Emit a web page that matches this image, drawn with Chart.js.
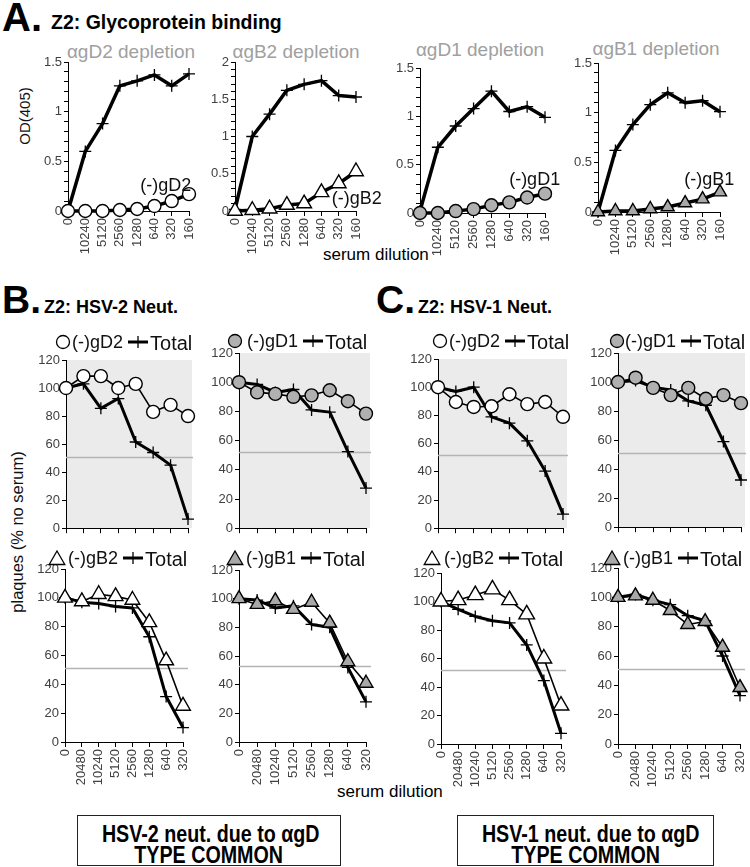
<!DOCTYPE html>
<html>
<head>
<meta charset="utf-8">
<script src="https://cdn.jsdelivr.net/npm/chart.js@4.4.1/dist/chart.umd.min.js"></script>
<style>
  html, body { margin: 0; padding: 0; background: #fff; }
  #page { position: relative; width: 750px; height: 867px; overflow: hidden;
          font-family: "Liberation Sans", Arial, sans-serif; color: #000; }
  #page canvas { position: absolute; }
  .txt { position: absolute; white-space: nowrap; line-height: 1; }
  .rot { position: absolute; white-space: nowrap; line-height: 1; transform: translate(-50%, -50%) rotate(-90deg); }
  .box { position: absolute; border: 1.5px solid #222; box-sizing: border-box;
         font-family: "Liberation Sans", Arial, sans-serif;
         font-weight: bold; font-size: 24px; text-align: center; }
  .box div { position: absolute; left: 0; right: 0; line-height: 1; white-space: nowrap; }
  .box span { display: inline-block; transform: scaleX(0.82); }
</style>
</head>
<body>
<div id="page">
  <div class="txt" style="left:2px; top:-3px; font-weight:bold; font-size:40px;">A.</div>
  <div class="txt" style="left:51px; top:13px; font-weight:bold; font-size:19.5px;">Z2: Glycoprotein binding</div>
  <div class="txt" style="left:131px; top:42px; font-size:19px; color:#a0a0a0; transform:translateX(-50%);">&alpha;gD2 depletion</div>
  <div class="txt" style="left:296px; top:42px; font-size:19px; color:#a0a0a0; transform:translateX(-50%);">&alpha;gB2 depletion</div>
  <div class="txt" style="left:480px; top:40px; font-size:19px; color:#a0a0a0; transform:translateX(-50%);">&alpha;gD1 depletion</div>
  <div class="txt" style="left:656px; top:39px; font-size:19px; color:#a0a0a0; transform:translateX(-50%);">&alpha;gB1 depletion</div>
  <div class="rot" style="left:24px; top:116px; font-size:15px; color:#111;">OD(405)</div>
  <div class="txt" style="left:323px; top:246px; font-size:17px;">serum dilution</div>

  <div class="txt" style="left:2px; top:280px; font-weight:bold; font-size:39px;">B.</div>
  <div class="txt" style="left:44px; top:298px; font-weight:bold; font-size:18px;">Z2: HSV-2 Neut.</div>
  <div class="txt" style="left:376px; top:280px; font-weight:bold; font-size:39px;">C.</div>
  <div class="txt" style="left:418px; top:298px; font-weight:bold; font-size:18px;">Z2: HSV-1 Neut.</div>
  <div class="rot" style="left:17px; top:532px; font-size:16.5px; color:#111;">plaques (% no serum)</div>
  <div class="txt" style="left:337px; top:783px; font-size:17px;">serum dilution</div>

  <div class="box" style="left:77px; top:815px; width:264px; height:51px;">
    <div style="top:6px;"><span>HSV-2 neut. due to &alpha;gD</span></div>
    <div style="top:27px;"><span>TYPE COMMON</span></div>
  </div>
  <div class="box" style="left:457px; top:815px; width:257px; height:51px;">
    <div style="top:6px;"><span>HSV-1 neut. due to &alpha;gD</span></div>
    <div style="top:27px;"><span>TYPE COMMON</span></div>
  </div>
</div>
<script>
Chart.defaults.font.family = '"Liberation Sans", Arial, sans-serif';
Chart.defaults.color = '#404040';
Chart.defaults.animation = false;

const bindingDilutions = ['0', '10240', '5120', '2560', '1280', '640', '320', '160'];
const neutDilutions = ['0', '20480', '10240', '5120', '2560', '1280', '640', '320'];

// A. glycoprotein binding, OD(405)
const odTotalGD2 = [0, 0.6, 0.88, 1.26, 1.31, 1.37, 1.26, 1.38];
const odMinusGD2 = [0, 0, 0, 0.01, 0.02, 0.05, 0.1, 0.17];
const odTotalGB2 = [0.02, 1.0, 1.3, 1.62, 1.7, 1.75, 1.55, 1.53];
const odMinusGB2 = [0, 0.01, 0.03, 0.08, 0.1, 0.25, 0.37, 0.53];
const odTotalGD1 = [0.02, 0.68, 0.9, 1.08, 1.26, 1.05, 1.1, 0.99];
const odMinusGD1 = [0, 0, 0.02, 0.04, 0.08, 0.11, 0.16, 0.2];
const odTotalGB1 = [0, 0.62, 0.88, 1.08, 1.2, 1.1, 1.12, 1.01];
const odMinusGB1 = [0, 0.01, 0.01, 0.03, 0.05, 0.09, 0.13, 0.2];

// B. HSV-2 neutralization, plaques (% no serum)
const hsv2MinusGD2 = [100, 108.5, 108.5, 100, 103, 83, 88, 80];
const hsv2TotalGD2 = [100, 103, 85.5, 92.5, 61.5, 54, 45, 6.5];
const hsv2MinusGD1 = [100, 93, 92, 90, 91, 94.5, 87, 78.5];
const hsv2TotalGD1 = [100, 98.5, 93, 95, 81, 79.5, 52.5, 27.5];
const hsv2MinusGB2 = [100, 97.5, 102.5, 101, 98.5, 83, 56.5, 25];
const hsv2TotalGB2 = [100, 97, 96, 94, 93, 73, 31.5, 10];
const hsv2MinusGB1 = [100, 96, 98.5, 92.5, 97.5, 83, 56, 41];
const hsv2TotalGB1 = [100, 99, 93.5, 95, 82, 80, 52, 28];

// C. HSV-1 neutralization
const hsv1MinusGD2 = [100, 89.5, 86, 86.5, 95, 88, 89.5, 79];
const hsv1TotalGD2 = [100, 97, 100, 79, 74.5, 62, 40.5, 10];
const hsv1MinusGD1 = [100, 103, 96, 91, 96, 88.5, 91, 85.5];
const hsv1TotalGD1 = [100, 101, 96.5, 94.5, 87, 84, 59, 32.5];
const hsv1MinusGB2 = [100, 101, 104.5, 108.5, 101, 91, 60, 27];
const hsv1TotalGB2 = [100, 94.5, 89.5, 86.5, 85, 69.5, 44.5, 7.5];
const hsv1MinusGB1 = [100, 101, 98, 91, 81.5, 83.5, 66, 38.5];
const hsv1TotalGB1 = [100, 102, 98, 95, 87.5, 84, 60, 33];

// 50% reference lines
const halfLines = [51, 52, 51, 53, 52, 51, 52, 51];

const AXIS_W = 45;
const page = document.getElementById('page');

function drawMarker(ctx, style, x, y, r, fill, lw) {
    ctx.save();
    ctx.fillStyle = fill;
    ctx.strokeStyle = '#000';
    ctx.lineWidth = lw;
    ctx.beginPath();
    if (style === 'circle') {
        ctx.arc(x, y, r, 0, Math.PI * 2);
    } else {
        for (let k = 0; k < 3; k++) {
            const a = k * 2 * Math.PI / 3;
            const px = x + Math.sin(a) * r, py = y - Math.cos(a) * r;
            if (k) ctx.lineTo(px, py); else ctx.moveTo(px, py);
        }
        ctx.closePath();
    }
    ctx.fill();
    ctx.stroke();
    ctx.restore();
}

function panelPlugin(p) {
    return {
        id: 'panelDeco',
        beforeDraw(chart) {
            if (!p.shade) return;
            const { ctx, chartArea: a } = chart;
            ctx.save();
            ctx.fillStyle = '#ebebeb';
            ctx.fillRect(a.left, a.top, a.right - a.left + 4, a.bottom - a.top);
            ctx.restore();
        },
        beforeDatasetsDraw(chart) {
            if (p.half == null) return;
            const { ctx, chartArea: a, scales } = chart;
            const y = Math.round(scales.y.getPixelForValue(p.half)) + 0.5;
            ctx.save();
            ctx.strokeStyle = '#b4b4b4';
            ctx.lineWidth = 1.6;
            ctx.beginPath();
            ctx.moveTo(a.left, y);
            ctx.lineTo(a.right + 5, y);
            ctx.stroke();
            ctx.restore();
        },
        afterDraw(chart) {
            const { ctx, chartArea: a, scales } = chart;
            ctx.save();
            ctx.fillStyle = '#111';
            ctx.font = '18px "Liberation Sans", Arial, sans-serif';
            if (p.note) {
                ctx.textAlign = 'center';
                ctx.textBaseline = 'middle';
                ctx.fillText(p.note.text, scales.x.getPixelForValue(p.note.idx), scales.y.getPixelForValue(p.note.val));
            }
            if (p.legend) {
                const L = p.legend;
                const y = a.top + L.dy;
                drawMarker(ctx, p.style, a.left + L.marker, y + (p.style === 'circle' ? 0 : 2),
                    p.style === 'circle' ? 6.5 : 9, p.fill, 1.3);
                ctx.fillStyle = '#111';
                ctx.textAlign = 'left';
                ctx.textBaseline = 'middle';
                const lx = a.left + L.label;
                ctx.fillText(p.name, lx, y + 1);
                const cx = lx + ctx.measureText(p.name).width + 5;
                ctx.strokeStyle = '#000';
                ctx.lineWidth = 3;
                ctx.beginPath();
                ctx.moveTo(cx, y);
                ctx.lineTo(cx + 20, y);
                ctx.stroke();
                ctx.lineWidth = 1.3;
                ctx.beginPath();
                ctx.moveTo(cx + 10, y - 6);
                ctx.lineTo(cx + 10, y + 6);
                ctx.stroke();
                ctx.font = '20px "Liberation Sans", Arial, sans-serif';
                ctx.fillText('Total', cx + 22, y + 2);
            }
            ctx.restore();
        }
    };
}

function buildChart(p) {
    const canvas = document.createElement('canvas');
    const w = p.right - p.left + AXIS_W + p.padR;
    const h = p.bottom - p.top + p.padT + p.axisH;
    canvas.width = w;
    canvas.height = h;
    canvas.style.left = (p.left - AXIS_W) + 'px';
    canvas.style.top = (p.top - p.padT) + 'px';
    page.appendChild(canvas);

    const major = p.major;
    new Chart(canvas, {
        type: 'line',
        data: {
            labels: p.labels,
            datasets: [
                {
                    label: p.name,
                    data: p.minus,
                    borderColor: '#000',
                    borderWidth: p.lineW,
                    borderJoinStyle: 'round',
                    pointStyle: p.style,
                    pointRadius: p.r,
                    pointBackgroundColor: p.fill,
                    pointBorderColor: '#000',
                    pointBorderWidth: 1.4,
                    clip: false
                },
                {
                    label: 'Total',
                    data: p.total,
                    borderColor: '#000',
                    borderWidth: p.totalW,
                    borderJoinStyle: 'round',
                    pointStyle: 'cross',
                    pointRadius: 6,
                    pointBorderColor: '#000',
                    pointBorderWidth: 1.3,
                    clip: false
                }
            ]
        },
        options: {
            responsive: false,
            events: [],
            layout: { padding: { top: p.padT, right: p.padR, left: 0, bottom: 0 } },
            plugins: { legend: { display: false }, tooltip: { enabled: false } },
            scales: {
                x: {
                    offset: false,
                    grid: { drawOnChartArea: false, drawTicks: true, tickLength: 5, color: '#000', offset: false },
                    border: { display: true, color: '#000', width: 1 },
                    ticks: { display: p.showX, autoSkip: false, minRotation: 90, maxRotation: 90, padding: 2,
                             color: '#404040', font: { size: 13 } },
                    afterFit: s => { s.height = p.axisH; }
                },
                y: {
                    min: 0,
                    max: p.yMax,
                    grid: { drawOnChartArea: false, drawTicks: true, tickLength: 4, color: '#000' },
                    border: { display: true, color: '#000', width: 1 },
                    ticks: {
                        stepSize: p.step,
                        autoSkip: false,
                        padding: 2,
                        color: '#404040',
                        font: { size: 13 },
                        callback: v => {
                            const r = Math.round(v / major);
                            return Math.abs(v / major - r) < 1e-6 ? String(+(r * major).toFixed(2)) : '';
                        }
                    },
                    afterFit: s => { s.width = AXIS_W; }
                }
            }
        },
        plugins: [panelPlugin(p)]
    });
}

const bindBase = { yMax: 1.5, step: 0.1, major: 0.5, labels: bindingDilutions, lineW: 3.5, totalW: 3.5,
                   padT: 15, padR: 40, axisH: 55, showX: true };
const neutTop = { yMax: 120, step: 20, major: 20, lineW: 1.6, totalW: 3, r: 6.5, padT: 32, padR: 20,
                  axisH: 8, showX: false, shade: true, labels: neutDilutions };
const neutBottom = { yMax: 120, step: 20, major: 20, lineW: 1.6, totalW: 3, r: 8.5, padT: 32, padR: 20,
                     axisH: 55, showX: true, shade: false, labels: neutDilutions };

const panels = [
    Object.assign({}, bindBase, { left: 68, right: 189, top: 62, bottom: 211, total: odTotalGD2, minus: odMinusGD2,
        name: '(-)gD2', style: 'circle', fill: '#fff', r: 6.5, note: { text: '(-)gD2', idx: 5.66, val: 0.25 } }),
    Object.assign({}, bindBase, { left: 235, right: 356, top: 62, bottom: 211, yMax: 2, total: odTotalGB2, minus: odMinusGB2,
        name: '(-)gB2', style: 'triangle', fill: '#fff', r: 8.5, note: { text: '(-)gB2', idx: 7.05, val: 0.16 } }),
    Object.assign({}, bindBase, { left: 420, right: 545, top: 68, bottom: 213, total: odTotalGD1, minus: odMinusGD1,
        name: '(-)gD1', style: 'circle', fill: '#b0b0b0', r: 6.5, note: { text: '(-)gD1', idx: 6.42, val: 0.34 } }),
    Object.assign({}, bindBase, { left: 598, right: 720, top: 63, bottom: 212, total: odTotalGB1, minus: odMinusGB1,
        name: '(-)gB1', style: 'triangle', fill: '#a8a8a8', r: 7.5, note: { text: '(-)gB1', idx: 6.38, val: 0.32 } }),

    Object.assign({}, neutTop, { left: 66, right: 188, top: 360, bottom: 530, total: hsv2TotalGD2, minus: hsv2MinusGD2,
        name: '(-)gD2', style: 'circle', fill: '#fff', half: halfLines[0],
        legend: { dy: -18, marker: -3, label: 6 } }),
    Object.assign({}, neutTop, { left: 239, right: 366, top: 353, bottom: 530, total: hsv2TotalGD1, minus: hsv2MinusGD1,
        name: '(-)gD1', style: 'circle', fill: '#b0b0b0', half: halfLines[1],
        legend: { dy: -12, marker: -4, label: 8 } }),
    Object.assign({}, neutBottom, { left: 65, right: 183, top: 569, bottom: 742, total: hsv2TotalGB2, minus: hsv2MinusGB2,
        name: '(-)gB2', style: 'triangle', fill: '#fff', half: halfLines[2],
        legend: { dy: -11, marker: -8, label: 3 } }),
    Object.assign({}, neutBottom, { left: 239, right: 366, top: 570, bottom: 742, total: hsv2TotalGB1, minus: hsv2MinusGB1,
        name: '(-)gB1', style: 'triangle', fill: '#a8a8a8', r: 8, half: halfLines[3],
        legend: { dy: -12, marker: -4, label: 7 } }),

    Object.assign({}, neutTop, { left: 438, right: 563, top: 359, bottom: 530, total: hsv1TotalGD2, minus: hsv1MinusGD2,
        name: '(-)gD2', style: 'circle', fill: '#fff', half: halfLines[4],
        legend: { dy: -18, marker: 2, label: 11 } }),
    Object.assign({}, neutTop, { left: 618, right: 741, top: 353, bottom: 529, total: hsv1TotalGD1, minus: hsv1MinusGD1,
        name: '(-)gD1', style: 'circle', fill: '#b0b0b0', half: halfLines[5],
        legend: { dy: -12, marker: -1, label: 7 } }),
    Object.assign({}, neutBottom, { left: 441, right: 561, top: 573, bottom: 744, total: hsv1TotalGB2, minus: hsv1MinusGB2,
        name: '(-)gB2', style: 'triangle', fill: '#fff', r: 9, half: halfLines[6],
        legend: { dy: -15, marker: -9, label: 3 } }),
    Object.assign({}, neutBottom, { left: 618, right: 740, top: 568, bottom: 744, total: hsv1TotalGB1, minus: hsv1MinusGB1,
        name: '(-)gB1', style: 'triangle', fill: '#a8a8a8', r: 8, half: halfLines[7],
        legend: { dy: -10, marker: -6, label: 5 } })
];

panels.forEach(buildChart);
</script>
</body>
</html>
